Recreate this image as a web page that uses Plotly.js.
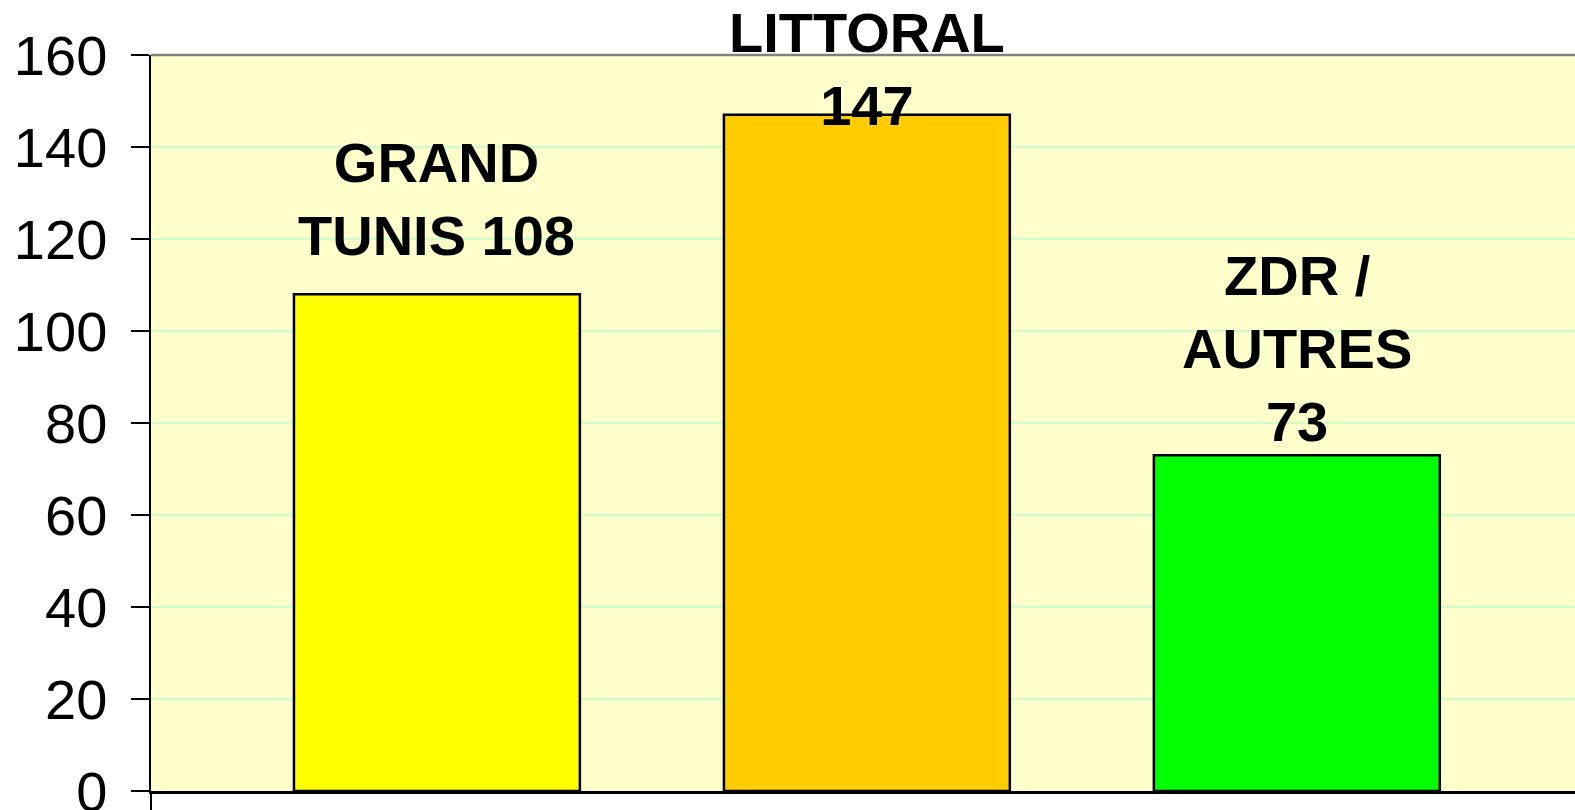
<!DOCTYPE html>
<html>
<head>
<meta charset="utf-8">
<script src="https://cdn.plot.ly/plotly-3.0.1.min.js"></script>
<style>html,body{margin:0;padding:0;background:#fff;}#chart{width:1575px;height:810px;}</style>
</head>
<body>
<div id="chart"></div>
<script>
const categories = ['GRAND TUNIS', 'LITTORAL', 'ZDR / AUTRES'];
const values = [108, 147, 73];
const labels = ['GRAND<br>TUNIS 108', 'LITTORAL<br>147', 'ZDR /<br>AUTRES<br>73'];
const barColors = ['#ffff00', '#ffcc00', '#00ff00'];
const labelShifts = [95, 46, 107];
const yTicks = [0, 20, 40, 60, 80, 100, 120, 140, 160];

const font = 'Liberation Sans, Arial, sans-serif';

const trace = {
  type: 'bar',
  x: categories,
  y: values,
  marker: {color: barColors, line: {color: '#000000', width: 2.5}},
  hoverinfo: 'none'
};

const annotations = categories.map((c, i) => ({
  x: c, y: values[i], xref: 'x', yref: 'y',
  text: '<b>' + labels[i] + '</b>',
  showarrow: false, yanchor: 'middle', xanchor: 'center',
  yshift: labelShifts[i],
  font: {family: font, size: 56, color: '#000000'}
}));

const layout = {
  width: 1575, height: 810,
  margin: {l: 151, r: 0, t: 55, b: 19, pad: 0},
  paper_bgcolor: '#ffffff',
  plot_bgcolor: '#ffffcc',
  showlegend: false,
  bargap: 0.335,
  xaxis: {
    type: 'category',
    range: [-0.665, 2.647],
    showticklabels: false,
    showgrid: false,
    zeroline: false,
    showline: true, linecolor: '#000000', linewidth: 2.5,
    tickmode: 'array', tickvals: [-0.665], ticktext: [''],
    ticks: 'outside', ticklen: 19, tickwidth: 2.5, tickcolor: '#000000'
  },
  yaxis: {
    range: [0, 160],
    tickmode: 'array', tickvals: yTicks, ticktext: yTicks.map(String),
    ticks: 'outside', ticklen: 18, tickwidth: 2.5, tickcolor: '#000000',
    showline: true, linecolor: '#000000', linewidth: 2.5,
    showgrid: true, gridcolor: '#ccffcc', gridwidth: 2.5,
    zeroline: false,
    ticklabeloverflow: 'allow',
    tickfont: {family: font, size: 56, color: '#000000'},
    ticklabelstandoff: 12
  },
  shapes: [{
    type: 'line', xref: 'paper', yref: 'paper', x0: 0, x1: 1, y0: 1, y1: 1,
    line: {color: '#808080', width: 2.5}
  }],
  annotations: annotations
};

Plotly.newPlot('chart', [trace], layout, {displayModeBar: false, staticPlot: true});
</script>
</body>
</html>
